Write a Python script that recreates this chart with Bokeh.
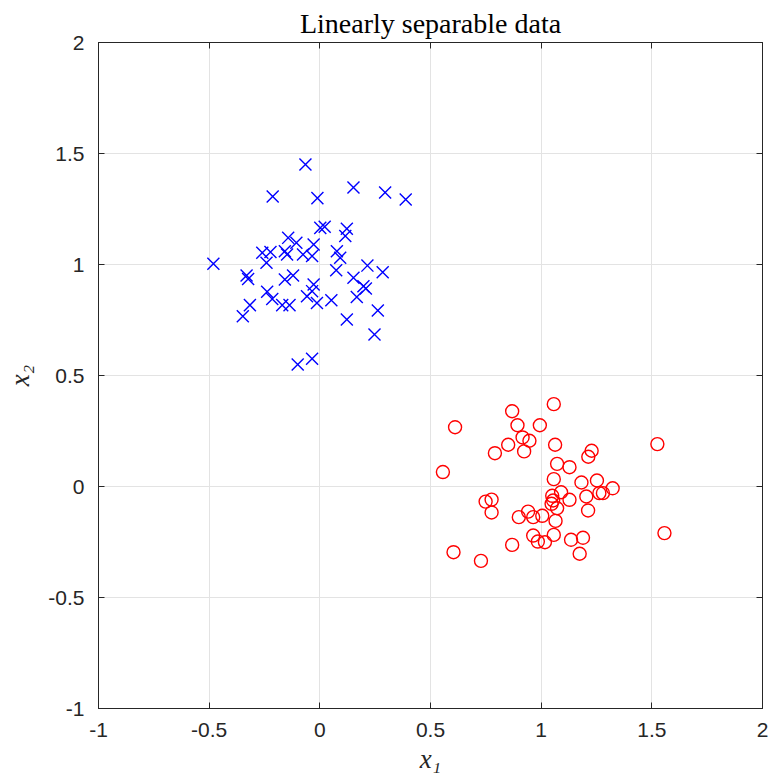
from bokeh.plotting import figure
from bokeh.models import FixedTicker, LinearAxis, Range1d
from bokeh.embed import file_html
from bokeh.resources import INLINE

# Class 1 (blue crosses)
x1_blue = [-0.065, -0.213, -0.011, 0.152, 0.295, 0.388, 0.002, 0.022, 0.122, 0.115,
           -0.143, -0.106, -0.028, -0.260, -0.223, -0.158, -0.148, -0.076, -0.035, 0.077,
           0.092, -0.241, -0.481, 0.215, 0.074, 0.284, -0.331, -0.324, -0.158, -0.121,
           0.152, 0.197, 0.208, -0.028, -0.238, -0.035, -0.215, -0.058, -0.013, 0.052,
           0.167, -0.170, -0.137, -0.316, -0.348, 0.262, 0.122, 0.247, -0.100, -0.035]
x2_blue = [1.450, 1.306, 1.299, 1.347, 1.324, 1.293, 1.165, 1.170, 1.161, 1.128,
           1.120, 1.098, 1.090, 1.053, 1.056, 1.060, 1.045, 1.045, 1.038, 1.060,
           1.030, 1.008, 1.003, 0.995, 0.974, 0.965, 0.950, 0.935, 0.932, 0.950,
           0.940, 0.902, 0.892, 0.910, 0.877, 0.880, 0.845, 0.857, 0.827, 0.839,
           0.854, 0.817, 0.817, 0.817, 0.767, 0.793, 0.752, 0.685, 0.550, 0.575]

# Class 2 (red circles)
x1_red = [1.057, 0.869, 0.611, 0.893, 0.994, 0.916, 0.947, 0.851, 1.063, 0.791,
          0.923, 1.228, 1.213, 1.525, 1.072, 1.128, 0.556, 1.057, 1.182, 1.252,
          1.323, 1.263, 1.279, 1.204, 1.090, 1.050, 1.054, 1.047, 1.072, 1.128,
          0.749, 0.776, 0.776, 1.212, 0.941, 0.899, 0.964, 1.005, 1.065, 0.964,
          1.057, 0.985, 1.017, 1.135, 1.189, 1.557, 0.869, 1.174, 0.604, 0.728]
x2_red = [0.371, 0.339, 0.267, 0.276, 0.276, 0.221, 0.206, 0.188, 0.188, 0.150,
          0.158, 0.161, 0.134, 0.191, 0.102, 0.087, 0.065, 0.033, 0.018, 0.027,
          -0.008, -0.030, -0.030, -0.045, -0.026, -0.042, -0.063, -0.078, -0.098, -0.060,
          -0.068, -0.059, -0.117, -0.108, -0.113, -0.138, -0.138, -0.132, -0.155, -0.221,
          -0.218, -0.248, -0.251, -0.240, -0.231, -0.210, -0.263, -0.303, -0.296, -0.335]

tick_values = [-1, -0.5, 0, 0.5, 1, 1.5, 2]
tick_labels = ["-1", "-0.5", "0", "0.5", "1", "1.5", "2"]

p = figure(width=769, height=776, output_backend="svg", toolbar_location=None,
           x_range=Range1d(-1, 2), y_range=Range1d(-1, 2),
           min_border_left=98, min_border_right=7, min_border_top=42, min_border_bottom=67,
           title="Linearly separable data")
p.title.align = "center"
p.title.text_font = "Liberation Serif"
p.title.text_font_style = "normal"
p.title.text_font_size = "28px"
p.title.text_color = "#000000"
p.title.standoff = 7
p.title.text_line_height = 1.0

p.background_fill_color = "white"
p.border_fill_color = "white"
p.outline_line_color = "#262626"
p.outline_line_width = 1

overrides = {v: l for v, l in zip(tick_values, tick_labels)}
for ax in [p.xaxis[0], p.yaxis[0]]:
    ax.ticker = FixedTicker(ticks=tick_values)
    ax.major_label_overrides = overrides
    ax.major_label_text_font = "Liberation Sans"
    ax.major_label_text_font_size = "21px"
    ax.major_label_text_color = "#262626"
    ax.major_label_text_line_height = 1.0
    ax.major_tick_in = 6
    ax.major_tick_out = 0
    ax.minor_tick_line_color = None
    ax.axis_line_color = "#262626"
    ax.major_tick_line_color = "#262626"
    ax.axis_label_text_font = "Liberation Serif"
    ax.axis_label_text_font_style = "italic"
    ax.axis_label_text_font_size = "27px"
    ax.axis_label_text_color = "#262626"
    ax.axis_label_text_line_height = 1.0

p.xaxis[0].major_label_standoff = 14
p.yaxis[0].major_label_standoff = 14
p.xaxis[0].axis_label = "x\u2081"
p.yaxis[0].axis_label = "x\u2082"
p.xaxis[0].axis_label_standoff = 4
p.yaxis[0].axis_label_standoff = 10

for side in ["above", "right"]:
    ax = LinearAxis(ticker=FixedTicker(ticks=tick_values),
                    major_label_text_font_size="0px", major_label_text_alpha=0,
                    major_tick_in=6, major_tick_out=0,
                    minor_tick_line_color=None,
                    axis_line_color="#262626", major_tick_line_color="#262626")
    ax.major_label_overrides = {v: "" for v in tick_values}
    ax.major_label_standoff = 0
    p.add_layout(ax, side)

p.xgrid.ticker = FixedTicker(ticks=tick_values)
p.ygrid.ticker = FixedTicker(ticks=tick_values)
p.xgrid.grid_line_color = "#e3e3e3"
p.ygrid.grid_line_color = "#e3e3e3"

p.scatter(x1_blue, x2_blue, marker="x", size=17, line_color="#0000ff", line_width=1.4)
p.scatter(x1_red, x2_red, marker="circle", size=13, fill_color=None,
          line_color="#ff0000", line_width=1.4)

open("out.html", "w").write(file_html(p, INLINE))
